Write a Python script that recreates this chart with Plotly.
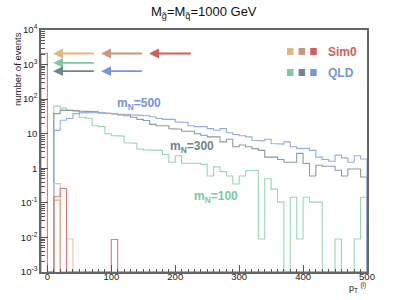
import math
import plotly.graph_objects as go

# ---------------- data ----------------
bin_edges = list(range(0, 510, 10))  # 0..500, 10 GeV bins

# QLD, m_N = 100 (green)
qld_m100 = [0, 63, 55, 48, 45, 30, 28, 17, 16, 10,
            8.8, 8.5, 5.5, 5.3, 3.6, 3.4, 3.3, 3.3, 2.5, 1.5,
            2.3, 1.4, 1.4, 1.4, 1.3, 0.6, 1.1, 0.8, 0.6, 0.35,
            0.6, 0.85, 0.88, 0.009, 0.5, 0.25, 0.105, 0, 0.145, 0.009,
            0.145, 0.105, 0.105, 0, 0, 0.009, 0, 0, 0.009, 0.145]
# QLD, m_N = 300 (grey)
qld_m300 = [0, 38, 48, 48, 46, 45, 44, 43, 40, 39,
            37, 35, 33, 30, 26, 24, 18.6, 17, 17, 14,
            13.5, 11.8, 11.8, 10, 9, 8.1, 8.1, 5.8, 6.9, 4.2,
            4.7, 4.2, 3.7, 3.3, 2.1, 2.1, 1.8, 1.5, 1.5, 2.7,
            1.37, 0.6, 1.23, 1.15, 1.15, 0.88, 0.6, 0.95, 0.95, 0.56]
# QLD, m_N = 500 (blue)
qld_m500 = [0, 12.5, 24.5, 27.6, 38, 40, 41, 42, 41, 39,
            38, 37, 36, 35, 34, 33, 31, 27.6, 26, 26,
            22, 21, 17, 16, 16, 14, 12.6, 14, 10.7, 9.5,
            8.7, 8.1, 6.5, 6.2, 6.9, 5.2, 5.0, 5.8, 4.2, 3.7,
            3.8, 3.3, 2.1, 1.8, 1.6, 2.4, 2.0, 1.5, 2.3, 1.85]
# Sim0 samples (orange, brown, red): only a few non-empty bins
sim0_orange = [0, 0.36, 0, 0.009] + [0] * 46
sim0_brown = [0, 0.12] + [0] * 48
sim0_red = [0, 0.15, 0.26] + [0] * 7 + [0.0087] + [0] * 39
sim0_red_underflow = 2090  # bin [-10, 0]

# events without a lepton (left-pointing arrows)
arrow_names = ["orange", "brown", "red", "green", "grey", "blue"]
arrow_counts = [2090, 2090, 2090, 1120, 645, 645]
arrow_head_x = [9, 84, 159, 9, 9, 84]
arrow_tail_x = [75, 150, 227, 75, 75, 150]

y_ticks = [1e-3, 1e-2, 1e-1, 1, 10, 1e2, 1e3, 1e4]
y_ticktext = ["10<sup>-3</sup>", "10<sup>-2</sup>", "10<sup>-1</sup>", "1", "10",
              "10<sup>2</sup>", "10<sup>3</sup>", "10<sup>4</sup>"]
x_ticks = [0, 100, 200, 300, 400, 500]

# ---------------- styles ----------------
FLOOR = 1e-3
col_line = {"green": "#98d6b4", "grey": "#8a9c9c", "blue": "#92abe6",
            "orange": "#e8c59a", "brown": "#d2aa92", "red": "#e07878"}
col_solid = {"green": "#7cc8a0", "grey": "#6e8686", "blue": "#7595dc",
             "orange": "#e2b87f", "brown": "#c8977b", "red": "#d65c5c"}
FONT = "Liberation Sans, Arial, Helvetica, sans-serif"


def steps(edges, vals):
    xs, ys = [edges[0]], [FLOOR]
    for i, val in enumerate(vals):
        v = val if val > FLOOR else FLOOR
        xs += [edges[i], edges[i + 1]]
        ys += [v, v]
    xs.append(edges[-1]); ys.append(FLOOR)
    return xs, ys


fig = go.Figure()
series = [("green", qld_m100, bin_edges), ("grey", qld_m300, bin_edges),
          ("blue", qld_m500, bin_edges), ("orange", sim0_orange, bin_edges),
          ("brown", sim0_brown, bin_edges),
          ("red", [sim0_red_underflow] + sim0_red, [-10] + bin_edges)]
for name, vals, edges in series:
    xs, ys = steps(edges, vals)
    fig.add_trace(go.Scatter(x=xs, y=ys, mode="lines",
                             line=dict(color=col_line[name], width=1.1),
                             hoverinfo="skip", showlegend=False))

annotations = []
for name, cnt, hx, tx in zip(arrow_names, arrow_counts, arrow_head_x, arrow_tail_x):
    annotations.append(dict(x=hx, y=math.log10(cnt), ax=tx, ay=math.log10(cnt),
                            xref="x", yref="y", axref="x", ayref="y",
                            showarrow=True, arrowhead=2, arrowsize=1.1,
                            arrowwidth=1.8, arrowcolor=col_solid[name], text=""))

# curve labels
for txt, xx, yy, c in [("m<sub>N</sub>=500", 144, 1.85, "blue"),
                       ("m<sub>N</sub>=300", 226, 0.61, "grey"),
                       ("m<sub>N</sub>=100", 264, -0.84, "green")]:
    annotations.append(dict(x=xx, y=yy, xref="x", yref="y", showarrow=False,
                            text="<b>" + txt + "</b>",
                            font=dict(family=FONT, size=12, color=col_solid[c])))

# plot area in pixels: x 41..367, y 30..272
def px(x):
    return (x - 41) / 326.0


def py(y):
    return (272 - y) / 242.0


shapes = []
for row, names, label, lc in [(0, ["orange", "brown", "red"], "Sim0", "red"),
                              (1, ["green", "grey", "blue"], "QLD", "blue")]:
    y0 = 48 + row * 21
    for k, n in enumerate(names):
        x0 = 287 + k * 11.6
        shapes.append(dict(type="rect", xref="paper", yref="paper",
                           x0=px(x0), x1=px(x0 + 6.5), y0=py(y0 + 7), y1=py(y0),
                           fillcolor=col_solid[n], line=dict(width=0)))
    annotations.append(dict(x=px(326), y=py(y0 + 3.5), xref="paper", yref="paper",
                            xanchor="left", yanchor="middle", showarrow=False,
                            text="<b>" + label + "</b>",
                            font=dict(family=FONT, size=12, color=col_solid[lc])))

# title
annotations.append(dict(x=px(204), y=py(13), xref="paper", yref="paper",
                        xanchor="center", yanchor="middle", showarrow=False,
                        text="M<sub>g̃</sub>=M<sub>q̃</sub>=1000 GeV",
                        font=dict(family=FONT, size=13, color="#111")))
# axis titles
annotations.append(dict(x=px(17), y=py(30), xref="paper", yref="paper",
                        xanchor="center", yanchor="top", showarrow=False,
                        textangle=-90, text="number of events",
                        font=dict(family=FONT, size=9.5, color="#222")))
annotations.append(dict(x=px(368), y=py(287), xref="paper", yref="paper",
                        xanchor="right", yanchor="middle", showarrow=False,
                        text="p<sub>T</sub> <sup>(l)</sup>",
                        font=dict(family=FONT, size=9, color="#222")))

fig.update_layout(
    width=409, height=300,
    margin=dict(l=41, r=42, t=30, b=28),
    paper_bgcolor="white", plot_bgcolor="white",
    font=dict(family=FONT, size=10, color="#222"),
    annotations=annotations, shapes=shapes, showlegend=False,
)
fig.update_xaxes(range=[-10, 500], tickvals=x_ticks, ticks="inside", ticklen=7,
                 tickcolor="#555", showgrid=False, zeroline=False,
                 showline=True, linecolor="#666", linewidth=1.5, mirror=True,
                 tickfont=dict(size=9.5, color="#222"), ticklabelstandoff=-5,
                 minor=dict(ticks="inside", ticklen=3.5, dtick=10, tickcolor="#555", showgrid=False))
fig.update_yaxes(type="log", range=[-3, 4], tickvals=y_ticks, ticktext=y_ticktext,
                 ticks="inside", ticklen=7, tickcolor="#555", showgrid=False,
                 zeroline=False, showline=True, linecolor="#666", linewidth=1.5,
                 mirror=True, tickfont=dict(size=9.5, color="#222"),
                 minor=dict(ticks="inside", ticklen=4, dtick="D1", tickcolor="#555", showgrid=False))

fig.write_html("out.html", config={"displayModeBar": False},
               post_script="document.body.style.margin='0';")
